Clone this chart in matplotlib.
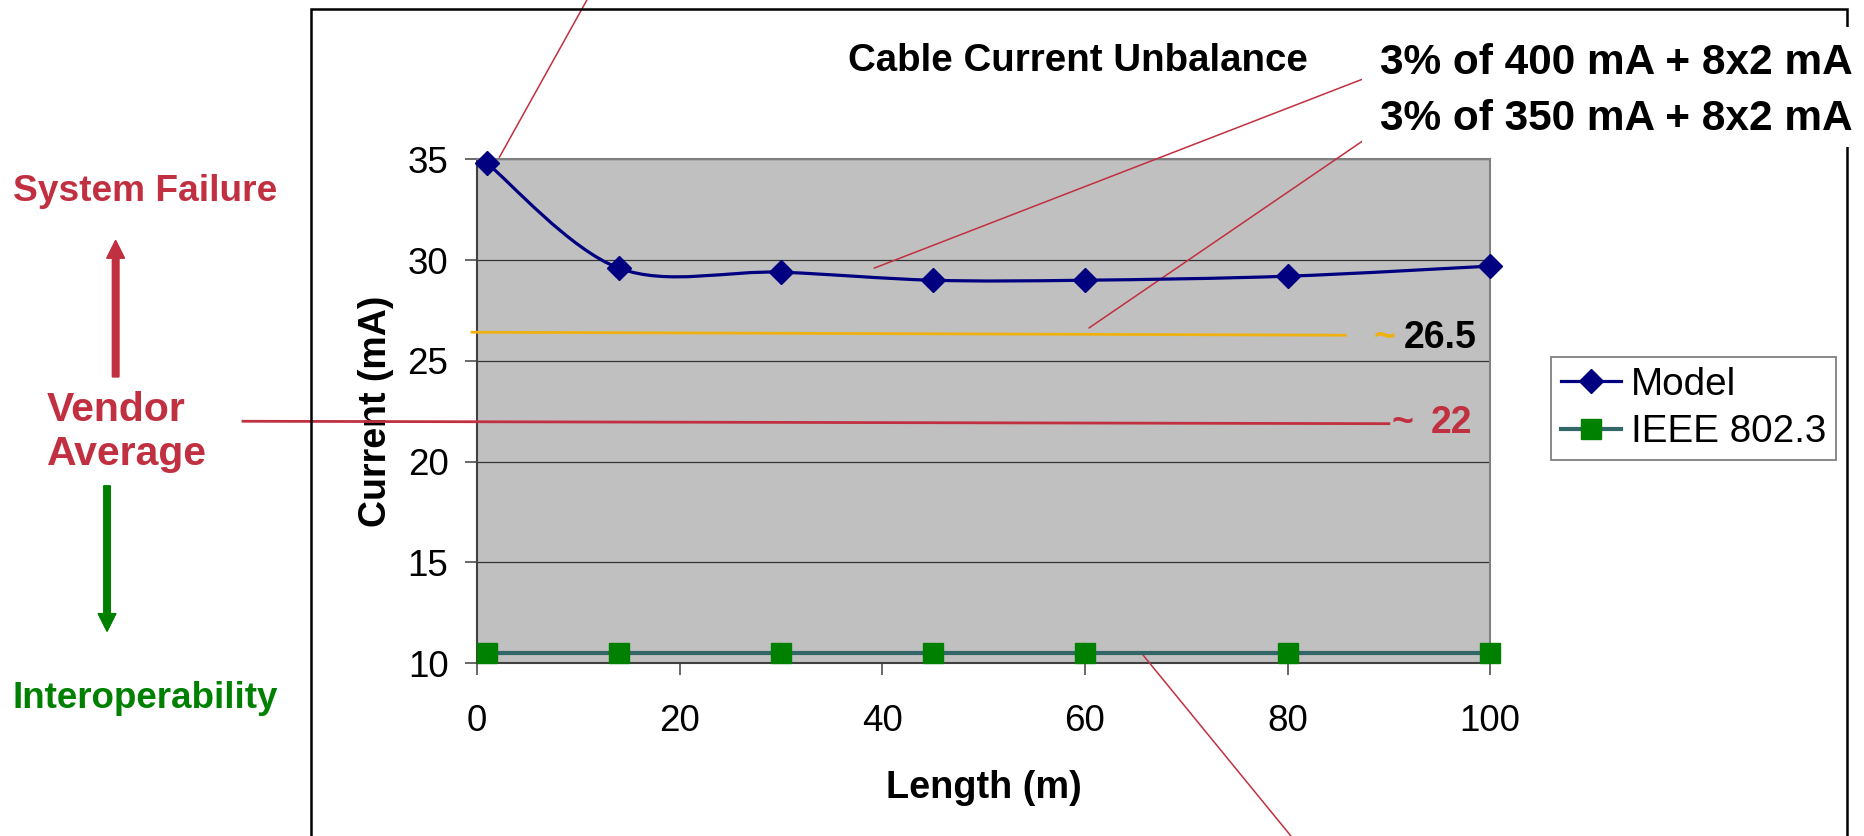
import matplotlib.pyplot as plt
from matplotlib.lines import Line2D
from matplotlib.patches import PathPatch, Rectangle
from matplotlib.path import Path

plt.rcParams['font.family'] = ['Liberation Sans', 'DejaVu Sans']

# cable lengths (m) and currents (mA)
lengths = [1, 14, 30, 45, 60, 80, 100]
model_ma = [34.8, 29.6, 29.4, 29.0, 29.0, 29.2, 29.7]
ieee_ma = [10.5, 10.5, 10.5, 10.5, 10.5, 10.5, 10.5]

# reference levels drawn across the chart
unbalance_x = [-0.5, 85.7]
unbalance_y = [26.42, 26.27]
vendor_x = [-23.1, 90.0]
vendor_y = [22.0, 21.88]

x_ticks = [0, 20, 40, 60, 80, 100]
y_ticks = [10, 15, 20, 25, 30, 35]

navy = '#000080'
red = '#C03040'
green = '#008000'
teal = '#336666'
yellow = '#EEB111'


def smooth_path(xs, ys):
    # Excel style smoothed line (Catmull-Rom as cubic bezier)
    pts = list(zip(xs, ys))
    verts = [pts[0]]
    codes = [Path.MOVETO]
    for i in range(len(pts) - 1):
        p0 = pts[max(i - 1, 0)]
        p1 = pts[i]
        p2 = pts[i + 1]
        p3 = pts[min(i + 2, len(pts) - 1)]
        c1 = (p1[0] + (p2[0] - p0[0]) / 6, p1[1] + (p2[1] - p0[1]) / 6)
        c2 = (p2[0] - (p3[0] - p1[0]) / 6, p2[1] - (p3[1] - p1[1]) / 6)
        verts += [c1, c2, p2]
        codes += [Path.CURVE4] * 3
    return Path(verts, codes)


fig = plt.figure(figsize=(18.65, 8.36), dpi=100)
ax = fig.add_axes([0.2558, 0.2069, 0.5432, 0.6025])
ax.set_facecolor('#C0C0C0')

ax.add_patch(PathPatch(smooth_path(lengths, model_ma), fill=False,
                       edgecolor=navy, lw=2.3, zorder=4))
ax.plot(lengths, model_ma, ls='none', marker='D', ms=12.5, color=navy,
        clip_on=False, zorder=5)
ax.plot(lengths, ieee_ma, color=teal, lw=3, marker='s', ms=14.5,
        mfc=green, mec=green, clip_on=False, zorder=5)

ax.plot(unbalance_x, unbalance_y, color=yellow, lw=2, clip_on=False, zorder=3)
ax.plot(vendor_x, vendor_y, color=red, lw=2, clip_on=False, zorder=3)

ax.set_xlim(0, 100)
ax.set_ylim(10, 35)
ax.set_xticks(x_ticks)
ax.set_yticks(y_ticks)
ax.yaxis.grid(True, color='#333333', lw=0.9)
ax.set_axisbelow(True)
ax.tick_params(axis='both', direction='out', length=8.6, width=1.1,
               color='#404040', labelsize=26.5)
ax.tick_params(axis='x', pad=21)
ax.tick_params(axis='y', pad=12)
for side in ['top', 'right']:
    ax.spines[side].set_color('#808080')
    ax.spines[side].set_linewidth(1.5)
for side in ['left', 'bottom']:
    ax.spines[side].set_color('#404040')
    ax.spines[side].set_linewidth(1.5)

ax.set_xlabel('Length (m)', fontsize=27.3, fontweight='bold', labelpad=22)
ax.set_ylabel('Current (mA)', fontsize=27, fontweight='bold', labelpad=10)

# value tags on the reference lines
ax.text(88.5, 25.64, '~', color=yellow, fontsize=27, fontweight='bold',
        va='baseline', clip_on=False)
ax.text(91.5, 25.64, '26.5', color='black', fontsize=27, fontweight='bold',
        va='baseline', clip_on=False)
ax.text(90.3, 21.41, '~', color=red, fontsize=27, fontweight='bold',
        va='baseline', clip_on=False)
ax.text(94.1, 21.41, '22', color=red, fontsize=27, fontweight='bold',
        va='baseline', clip_on=False)

# callout lines
line_style = dict(arrowstyle='-', color=red, lw=1.1, shrinkA=0, shrinkB=0)
ax.annotate('', xy=(2.2, 35.1), xytext=(0.3147, 1.0),
            textcoords='figure fraction', arrowprops=line_style,
            annotation_clip=False)
ax.annotate('', xy=(39.2, 29.6), xytext=(0.7308, 0.9055),
            textcoords='figure fraction', arrowprops=line_style,
            annotation_clip=False)
ax.annotate('', xy=(60.4, 26.63), xytext=(0.7306, 0.8313),
            textcoords='figure fraction', arrowprops=line_style,
            annotation_clip=False)
ax.annotate('', xy=(65.7, 10.42), xytext=(0.6922, 0.0),
            textcoords='figure fraction', arrowprops=line_style,
            annotation_clip=False)

handles = [
    Line2D([], [], color=navy, lw=2.3, marker='D', ms=12.5),
    Line2D([], [], color=teal, lw=3, marker='s', ms=14.5, mfc=green, mec=green),
]
leg = fig.legend(handles, ['Model', 'IEEE 802.3'], loc='upper left',
                 bbox_to_anchor=(0.8316, 0.5730), fontsize=27.8,
                 fancybox=False, framealpha=1, edgecolor='#808080',
                 handlelength=1.56, handletextpad=0.26, labelspacing=0.3,
                 borderpad=0.25, borderaxespad=0, markerscale=1)
leg.get_frame().set_linewidth(1.3)

# outer frame of the slide chart, partly hidden by the formula box
fig.add_artist(Rectangle((311 / 1865, -0.1), (1847 - 311) / 1865, 1.0892,
                         transform=fig.transFigure, fill=False,
                         edgecolor='black', lw=1.8, zorder=0.5))
fig.add_artist(Rectangle((0.7303, 0.8242), 0.2697, 0.1435,
                         transform=fig.transFigure, facecolor='white',
                         edgecolor='none', zorder=4))

fig.text(0.4547, 0.9151, 'Cable Current Unbalance', fontsize=27.7,
         fontweight='bold', va='baseline', zorder=5)
fig.text(0.740, 0.9115, '3% of 400 mA + 8x2 mA', fontsize=30.5,
         fontweight='bold', va='baseline', zorder=5)
fig.text(0.740, 0.8445, '3% of 350 mA + 8x2 mA', fontsize=30.5,
         fontweight='bold', va='baseline', zorder=5)

# left side legend of meaning
fig.text(0.0068, 0.7596, 'System Failure', color=red, fontsize=26.7,
         fontweight='bold', va='baseline')
fig.text(0.0252, 0.4964, 'Vendor', color=red, fontsize=29.5,
         fontweight='bold', va='baseline')
fig.text(0.0252, 0.4438, 'Average', color=red, fontsize=29.5,
         fontweight='bold', va='baseline')
fig.text(0.0068, 0.1537, 'Interoperability', color=green, fontsize=26.5,
         fontweight='bold', va='baseline')

fig.add_artist(plt.annotate('', xy=(0.0620, 0.7121), xytext=(0.0620, 0.5494),
                            xycoords='figure fraction',
                            arrowprops=dict(facecolor=red, edgecolor=red,
                                            width=4.5, headwidth=12.5,
                                            headlength=12.5, shrink=0)))
fig.add_artist(plt.annotate('', xy=(0.0574, 0.2452), xytext=(0.0574, 0.4187),
                            xycoords='figure fraction',
                            arrowprops=dict(facecolor=green, edgecolor=green,
                                            width=4.5, headwidth=12.5,
                                            headlength=12.5, shrink=0)))

plt.savefig('out.png', dpi=100)
